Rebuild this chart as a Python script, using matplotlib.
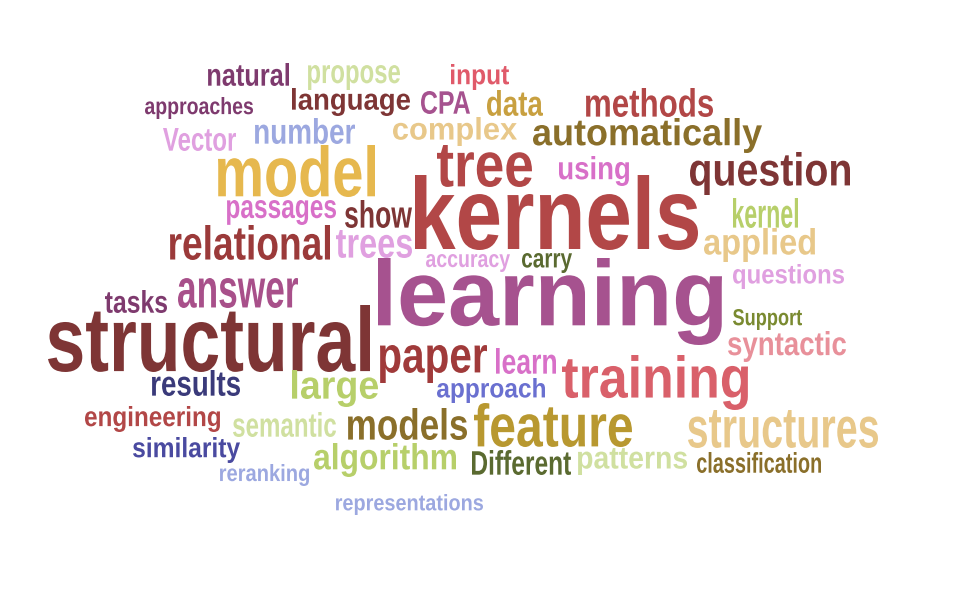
import matplotlib
matplotlib.use("Agg")
import matplotlib.pyplot as plt
from matplotlib.textpath import TextPath
from matplotlib.patches import PathPatch
from matplotlib.font_manager import FontProperties
from matplotlib.transforms import Affine2D

words = ["learning", "kernels", "structural", "model", "tree", "training", "question",
         "automatically", "feature", "structures", "relational", "answer", "paper", "models",
         "large", "algorithm", "methods", "complex", "language", "natural", "propose", "input",
         "CPA", "data", "approaches", "number", "Vector", "using", "passages", "show", "kernel",
         "applied", "trees", "accuracy", "carry", "questions", "tasks", "Support", "syntactic",
         "learn", "results", "approach", "engineering", "semantic", "similarity", "Different",
         "patterns", "classification", "reranking", "representations"]
# inked box of each word in pixels (left, right, top, bottom), y from top
x0 = [378, 415, 48, 218, 437, 562, 690, 533, 474, 688, 170, 178, 380, 348, 292, 314, 586,
      393, 292, 208, 308, 451, 421, 487, 145, 255, 163, 559, 227, 345, 733, 704, 336, 426,
      522, 733, 105, 733, 728, 496, 152, 437, 85, 233, 133, 472, 578, 697, 220, 336]
x1 = [722, 698, 370, 375, 532, 748, 850, 762, 632, 878, 330, 298, 487, 467, 378, 456, 713,
      517, 410, 289, 400, 509, 470, 543, 253, 355, 236, 629, 336, 412, 798, 815, 412, 510,
      572, 844, 167, 802, 846, 556, 240, 545, 220, 336, 240, 571, 687, 821, 309, 483]
y0 = [258, 175, 305, 145, 145, 355, 152, 118, 403, 410, 225, 278, 345, 408, 370, 443, 88,
      117, 88, 63, 65, 64, 91, 90, 97, 118, 128, 156, 200, 200, 198, 228, 230, 254, 253,
      264, 290, 309, 331, 348, 370, 378, 406, 412, 437, 450, 448, 452, 464, 494]
y1 = [345, 250, 372, 197, 187, 410, 195, 153, 447, 448, 260, 308, 383, 440, 407, 477, 117,
      146, 116, 86, 90, 90, 114, 116, 119, 144, 151, 186, 225, 228, 228, 262, 258, 272, 273,
      289, 313, 330, 362, 374, 396, 403, 432, 437, 463, 475, 475, 473, 486, 515]
colors = ["#a6528f", "#b24747", "#7e3535", "#e6b84e", "#b24747", "#d9606a", "#7e3535",
          "#8a6f2a", "#b89830", "#e8c88a", "#9b3a3a", "#a8508a", "#a03a3a", "#8a6f2a",
          "#b7cf6a", "#b7cf6a", "#b24747", "#e8c88a", "#7e3535", "#7e3a6e", "#d0e0a0",
          "#e05a6a", "#a6528f", "#c8a040", "#7e3a6e", "#9ca8e0", "#e0a0e0", "#d870c8",
          "#d870c8", "#7e3535", "#b7cf6a", "#e8c88a", "#e0a0e0", "#e0a0e0", "#5a6a30",
          "#e0a0e0", "#7e3a6e", "#7a8a30", "#e8909a", "#d870c8", "#3a3a7a", "#6a70d0",
          "#b24747", "#d0e0a0", "#4a4aa0", "#5a6a30", "#d0e0a0", "#8a6f2a", "#9ca8e0",
          "#9ca8e0"]

fig = plt.figure(figsize=(9.6, 6), dpi=100)
ax = fig.add_axes([0, 0, 1, 1])
ax.set_xlim(0, 960)
ax.set_ylim(600, 0)
ax.axis("off")

prop = FontProperties(family="Liberation Sans", weight="bold")
for w, a, b, t, bt, c in zip(words, x0, x1, y0, y1, colors):
    p = TextPath((0, 0), w, size=100, prop=prop)
    ext = p.get_extents()
    sx = (b - a) / ext.width
    sy = (bt - t) / ext.height
    tr = Affine2D().translate(-ext.x0, -ext.y1).scale(sx, -sy).translate(a, t)
    ax.add_patch(PathPatch(tr.transform_path(p), facecolor=c, edgecolor="none"))

fig.savefig("out.png", dpi=100, facecolor="white")
